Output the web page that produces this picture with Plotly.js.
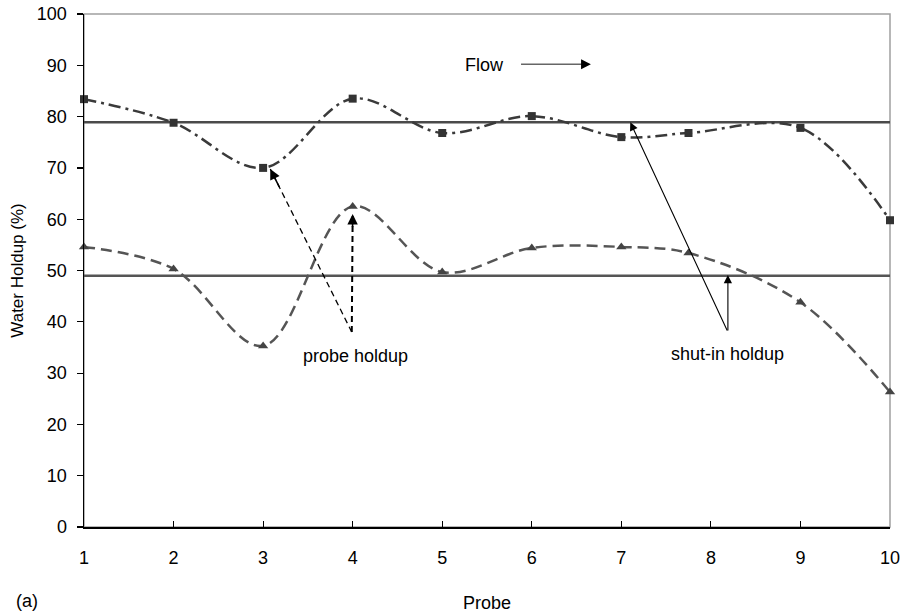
<!DOCTYPE html>
<html>
<head>
<meta charset="utf-8">
<script src="https://cdn.plot.ly/plotly-3.0.1.min.js"></script>
<style>html,body{margin:0;padding:0;background:#fff;}#chart{width:903px;height:613px;}</style>
</head>
<body>
<div id="chart"></div>
<script>
// Probe positions (8th point sits slightly left of tick 8 in the reference)
const probeX = [1, 2, 3, 4, 5, 6, 7, 7.75, 9, 10];
const upperHoldup = [83.4, 78.8, 70.0, 83.5, 76.8, 80.1, 76.0, 76.8, 77.8, 59.8];
const lowerHoldup = [54.6, 50.3, 35.3, 62.5, 49.7, 54.4, 54.6, 53.4, 43.8, 26.3];
const shutinX = [1, 10];
const shutinUpper = [78.9, 78.9];
const shutinLower = [49.0, 49.0];
const xTicks = [1, 2, 3, 4, 5, 6, 7, 8, 9, 10];
const yTicks = [0, 10, 20, 30, 40, 50, 60, 70, 80, 90, 100];

// annotation anchors in data units
const probeLabel = {x: 4.03, y: 33.3, text: 'probe holdup'};
const probeTail = {x: 3.99, y: 38.0};
const probeHeads = [{x: 3.08, y: 69.8}, {x: 4.0, y: 61.0}];
const shutLabel = {x: 8.18, y: 33.8, text: 'shut-in holdup'};
const shutTail = {x: 8.19, y: 38.0};
const shutHeads = [{x: 7.10, y: 78.9}, {x: 8.19, y: 49.1}];
const flowLabel = {x: 5.47, y: 90.0, text: 'Flow'};
const flowArrow = {x0: 5.88, x1: 6.66, y: 90.2};

const FONT = 'Liberation Sans, Arial, sans-serif';

const traces = [
  {x: shutinX, y: shutinUpper, mode: 'lines', line: {color: '#4a4a4a', width: 2.5}, hoverinfo: 'skip'},
  {x: shutinX, y: shutinLower, mode: 'lines', line: {color: '#555555', width: 2.5}, hoverinfo: 'skip'},
  {x: probeX, y: upperHoldup, mode: 'lines+markers',
   line: {color: '#3a3a3a', width: 2.5, dash: '12px,5px,3px,5px', shape: 'spline', smoothing: 1},
   marker: {symbol: 'square', size: 8, color: '#333333'}, cliponaxis: false},
  {x: probeX, y: lowerHoldup, mode: 'lines+markers',
   line: {color: '#555555', width: 2.5, dash: '11px,6px', shape: 'spline', smoothing: 1},
   marker: {symbol: 'triangle-up', size: 9, color: '#444444'}, cliponaxis: false}
];

const shapes = [
  {type: 'rect', xref: 'paper', yref: 'paper', x0: 0, x1: 1, y0: 0, y1: 1,
   line: {color: '#a0a0a0', width: 1.5}, layer: 'below'},
  {type: 'line', x0: probeTail.x, y0: probeTail.y, x1: probeHeads[0].x, y1: probeHeads[0].y,
   line: {color: '#000', width: 1.3, dash: '6px,4px'}},
  {type: 'line', x0: probeTail.x, y0: probeTail.y, x1: probeHeads[1].x, y1: probeHeads[1].y,
   line: {color: '#000', width: 2, dash: '6px,4px'}},
  {type: 'line', x0: flowArrow.x0, y0: flowArrow.y, x1: flowArrow.x1 - 0.05, y1: flowArrow.y,
   line: {color: '#666', width: 1.3}}
];

function headOnly(h, t, w) {
  // short arrow: only arrowhead visible, pointing from tail to head
  return {x: h.x, y: h.y, axref: 'x', ayref: 'y',
    ax: h.x + (t.x - h.x) * 0.12, ay: h.y + (t.y - h.y) * 0.12,
    text: '', showarrow: true, arrowhead: 2, arrowsize: 1.3, arrowwidth: w || 1.6, arrowcolor: '#000'};
}

const annotations = [
  {x: flowLabel.x, y: flowLabel.y, text: flowLabel.text, showarrow: false, font: {size: 18, family: FONT, color: '#000'}},
  {x: flowArrow.x1, y: flowArrow.y, ax: flowArrow.x1 - 0.12, ay: flowArrow.y, axref: 'x', ayref: 'y',
   text: '', showarrow: true, arrowhead: 2, arrowsize: 1.4, arrowwidth: 1.4, arrowcolor: '#000'},
  {x: probeLabel.x, y: probeLabel.y, text: probeLabel.text, showarrow: false, font: {size: 18, family: FONT, color: '#000'}},
  headOnly(probeHeads[0], probeTail),
  headOnly(probeHeads[1], probeTail),
  {x: shutLabel.x, y: shutLabel.y, text: shutLabel.text, showarrow: false, font: {size: 18, family: FONT, color: '#000'}},
  ...shutHeads.map(h => ({x: h.x, y: h.y, ax: shutTail.x, ay: shutTail.y, axref: 'x', ayref: 'y',
    text: '', showarrow: true, arrowhead: 2, arrowsize: 1.5, arrowwidth: 1.1, arrowcolor: '#000'})),
  {xref: 'paper', yref: 'paper', x: -0.087, y: -0.145, xanchor: 'left', yanchor: 'middle',
   text: '(a)', showarrow: false, font: {size: 18, family: FONT, color: '#000'}}
];

const layout = {
  width: 903, height: 613,
  margin: {l: 84, r: 13, t: 14, b: 86, pad: 0},
  paper_bgcolor: '#fff', plot_bgcolor: '#fff',
  showlegend: false,
  font: {family: FONT, size: 18, color: '#000'},
  xaxis: {
    range: [1, 10], tickvals: xTicks, ticktext: xTicks.map(String),
    showgrid: false, zeroline: false, showline: true, linecolor: '#000', linewidth: 1.5,
    ticks: 'inside', ticklen: 6, tickcolor: '#000', tickwidth: 1.2,
    ticklabelstandoff: 14,
    title: {text: 'Probe', font: {size: 18, family: FONT}, standoff: 30}
  },
  yaxis: {
    range: [0, 100], tickvals: yTicks, ticktext: yTicks.map(String),
    showgrid: false, zeroline: false, showline: true, linecolor: '#000', linewidth: 1.5,
    ticks: 'outside', ticklen: 6, tickcolor: '#000', tickwidth: 1.2,
    ticklabelstandoff: 6,
    title: {text: 'Water Holdup (%)', font: {size: 17, family: FONT}, standoff: 9}
  },
  shapes: shapes,
  annotations: annotations
};

Plotly.newPlot('chart', traces, layout, {staticPlot: true, displayModeBar: false});
</script>
</body>
</html>
